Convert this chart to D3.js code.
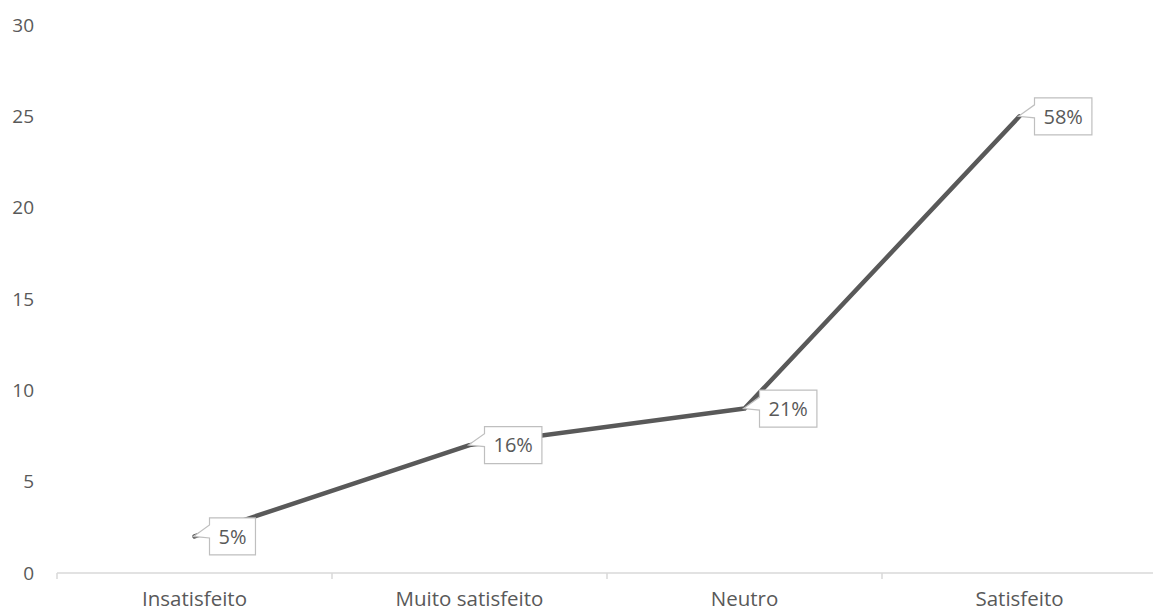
<!DOCTYPE html>
<html lang="pt">
<head>
<meta charset="UTF-8">
<title>Satisfação</title>
<script src="https://d3js.org/d3.v7.min.js"></script>
<style>
  body { margin: 0; background: #fff; }
  text { font-family: "Open Sans", "Noto Sans", sans-serif; fill: #595959; }
</style>
</head>
<body>
<div id="chart"></div>
<script>
// data
const categories = ["Insatisfeito", "Muito satisfeito", "Neutro", "Satisfeito"];
const counts = [2, 7, 9, 25];
const percentLabels = ["5%", "16%", "21%", "58%"];
const yTicks = [0, 5, 10, 15, 20, 25, 30];

const width = 1153, height = 611;
const margin = { top: 25, right: -4, bottom: 38, left: 57 };

const svg = d3.select("#chart").append("svg")
    .attr("width", width)
    .attr("height", height);

const x = d3.scaleBand()
    .domain(categories)
    .range([margin.left, width - margin.right])
    .paddingInner(0).paddingOuter(0);

const y = d3.scaleLinear()
    .domain([0, 30])
    .range([height - margin.bottom, margin.top]);

// y labels (no axis line, no grid)
svg.selectAll(".ylab")
    .data(yTicks)
    .enter().append("text")
    .attr("class", "ylab")
    .attr("x", 34)
    .attr("y", d => y(d))
    .attr("dy", "0.35em")
    .attr("text-anchor", "end")
    .style("font-size", "19px")
    .text(d => d);

// x axis
const xAxis = svg.append("g")
    .attr("transform", `translate(0,${y(0)})`);

xAxis.append("line")
    .attr("x1", margin.left).attr("x2", width)
    .attr("y1", 0).attr("y2", 0)
    .attr("stroke", "#d9d9d9").attr("stroke-width", 1.5);

const tickPos = categories.map(c => x(c));
xAxis.selectAll(".tick")
    .data(tickPos)
    .enter().append("line")
    .attr("x1", d => d).attr("x2", d => d)
    .attr("y1", 0).attr("y2", 6)
    .attr("stroke", "#d9d9d9").attr("stroke-width", 1.5);

xAxis.selectAll(".xlab")
    .data(categories)
    .enter().append("text")
    .attr("x", d => x(d) + x.bandwidth() / 2)
    .attr("y", 33)
    .attr("text-anchor", "middle")
    .style("font-size", "20.5px")
    .text(d => d);

// the line
const pts = categories.map((c, i) => ({ cat: c, v: counts[i], lab: percentLabels[i] }));

const line = d3.line()
    .x(d => x(d.cat) + x.bandwidth() / 2)
    .y(d => y(d.v));

svg.append("path")
    .datum(pts)
    .attr("d", line)
    .attr("fill", "none")
    .attr("stroke", "#595959")
    .attr("stroke-width", 4.5)
    .attr("stroke-linecap", "round")
    .attr("stroke-linejoin", "round");

// callout labels
const callout = svg.selectAll(".callout")
    .data(pts)
    .enter().append("g")
    .attr("class", "callout");

callout.each(function (d) {
    const g = d3.select(this);
    const px = x(d.cat) + x.bandwidth() / 2;
    const py = y(d.v);
    const shape = g.append("path");
    const t = g.append("text")
        .attr("y", py)
        .attr("dy", "0.36em")
        .attr("text-anchor", "middle")
        .style("font-size", "20px")
        .text(d.lab);
    const w = t.node().getComputedTextLength() + 18;
    const h = 37;
    const left = px + 15, top = py - h / 2, right = left + w, bottom = top + h;
    t.attr("x", left + w / 2);
    // box with wedge pointing back to the point
    const p = [
        [left, top], [right, top], [right, bottom], [left, bottom],
        [left, top + 20], [px - 1, py], [left, top + 7]
    ];
    shape.attr("d", "M" + p.map(q => q.join(",")).join("L") + "Z")
        .attr("fill", "#fff")
        .attr("stroke", "#bfbfbf")
        .attr("stroke-width", 1.2);
});
</script>
</body>
</html>
